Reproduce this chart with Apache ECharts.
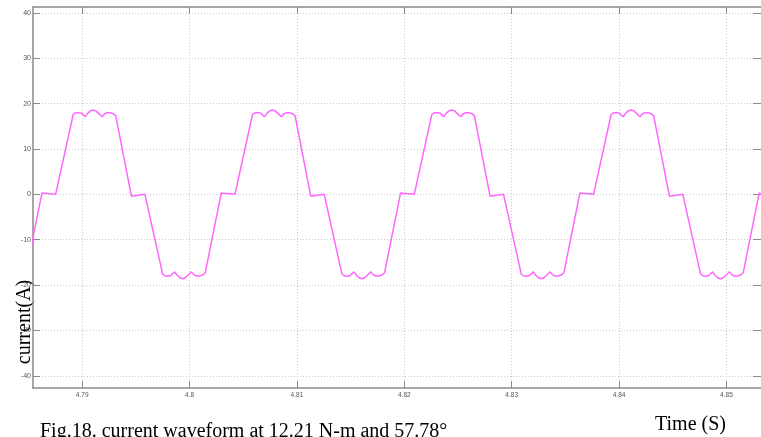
<!DOCTYPE html>
<html>
<head>
<meta charset="utf-8">
<script src="https://cdn.jsdelivr.net/npm/echarts@6/dist/echarts.min.js"></script>
<style>
  html, body { margin: 0; padding: 0; background: #ffffff; }
  #chart { width: 761px; height: 437px; }
</style>
</head>
<body>
<div id="chart"></div>
<script>
// Phase current over ~4 cycles of steady-state operation
const timeS = [
  4.784510, 4.784761,
  // cycle 1
  4.786257, 4.786443, 4.787529, 4.789164, 4.789368, 4.789647, 4.789926, 4.790279, 4.790529, 4.790762,
  4.791022, 4.791272, 4.791551, 4.791857, 4.792062, 4.792322, 4.792619, 4.792879, 4.793130,
  4.794588, 4.794774, 4.795842, 4.797495, 4.797699, 4.797978, 4.798257, 4.798610, 4.798860, 4.799093,
  4.799353, 4.799603, 4.799882, 4.800188, 4.800393, 4.800653, 4.800950, 4.801210, 4.801461,
  // cycle 2
  4.802957, 4.803143, 4.804229, 4.805864, 4.806068, 4.806347, 4.806626, 4.806979, 4.807229, 4.807462,
  4.807722, 4.807972, 4.808251, 4.808557, 4.808762, 4.809022, 4.809319, 4.809579, 4.809830,
  4.811288, 4.811474, 4.812542, 4.814195, 4.814399, 4.814678, 4.814957, 4.815310, 4.815560, 4.815793,
  4.816053, 4.816303, 4.816582, 4.816888, 4.817093, 4.817353, 4.817650, 4.817910, 4.818161,
  // cycle 3
  4.819657, 4.819843, 4.820929, 4.822564, 4.822768, 4.823047, 4.823326, 4.823679, 4.823929, 4.824162,
  4.824422, 4.824672, 4.824951, 4.825257, 4.825462, 4.825722, 4.826019, 4.826279, 4.826530,
  4.827988, 4.828174, 4.829242, 4.830895, 4.831099, 4.831378, 4.831657, 4.832010, 4.832260, 4.832493,
  4.832753, 4.833003, 4.833282, 4.833588, 4.833793, 4.834053, 4.834350, 4.834610, 4.834861,
  // cycle 4
  4.836357, 4.836543, 4.837629, 4.839264, 4.839468, 4.839747, 4.840026, 4.840379, 4.840629, 4.840862,
  4.841122, 4.841372, 4.841651, 4.841957, 4.842162, 4.842422, 4.842719, 4.842979, 4.843230,
  4.844688, 4.844874, 4.845942, 4.847595, 4.847799, 4.848078, 4.848357, 4.848710, 4.848960, 4.849193,
  4.849453, 4.849703, 4.849982, 4.850288, 4.850493, 4.850753, 4.851050, 4.851310, 4.851561,
  4.853057, 4.853243
];

const currentA = [
  -17.8, -17.3,
  // cycle 1
  0.3, 0, 0, 17.6, 17.95, 18.05, 17.9, 17.1, 17.9, 18.4,
  18.6, 18.4, 17.8, 17.1, 17.7, 18.0, 18.0, 17.8, 17.3,
  -0.4, 0, 0, -17.6, -17.95, -18.05, -17.9, -17.1, -17.9, -18.4,
  -18.6, -18.4, -17.8, -17.1, -17.7, -18.0, -18.0, -17.8, -17.3,
  // cycle 2
  0.3, 0, 0, 17.6, 17.95, 18.05, 17.9, 17.1, 17.9, 18.4,
  18.6, 18.4, 17.8, 17.1, 17.7, 18.0, 18.0, 17.8, 17.3,
  -0.4, 0, 0, -17.6, -17.95, -18.05, -17.9, -17.1, -17.9, -18.4,
  -18.6, -18.4, -17.8, -17.1, -17.7, -18.0, -18.0, -17.8, -17.3,
  // cycle 3
  0.3, 0, 0, 17.6, 17.95, 18.05, 17.9, 17.1, 17.9, 18.4,
  18.6, 18.4, 17.8, 17.1, 17.7, 18.0, 18.0, 17.8, 17.3,
  -0.4, 0, 0, -17.6, -17.95, -18.05, -17.9, -17.1, -17.9, -18.4,
  -18.6, -18.4, -17.8, -17.1, -17.7, -18.0, -18.0, -17.8, -17.3,
  // cycle 4
  0.3, 0, 0, 17.6, 17.95, 18.05, 17.9, 17.1, 17.9, 18.4,
  18.6, 18.4, 17.8, 17.1, 17.7, 18.0, 18.0, 17.8, 17.3,
  -0.4, 0, 0, -17.6, -17.95, -18.05, -17.9, -17.1, -17.9, -18.4,
  -18.6, -18.4, -17.8, -17.1, -17.7, -18.0, -18.0, -17.8, -17.3,
  0.3, 0
];

const xTicks = [4.79, 4.80, 4.81, 4.82, 4.83, 4.84, 4.85];
const xTickLabels = ['4.79', '4.8', '4.81', '4.82', '4.83', '4.84', '4.85'];
const yTicks = [-40, -30, -20, -10, 0, 10, 20, 30, 40];
const yTickLabels = ['-40', '-30', '-20', '-10', '0', '10', '20', '30', '40'];

const xRange = [4.785421, 4.853221];
const yRange = [-42.7, 41.3];

const axisGray = '#8a8a8a';
const gridGray = '#c9c9c9';

const points = timeS.map((t, i) => [t, currentA[i]]);

function pick(ticks, labels) {
  return v => {
    const i = ticks.findIndex(t => Math.abs(t - v) < 1e-9);
    return i >= 0 ? labels[i] : '';
  };
}

// frame axis: optional line plus inward ticks, no labels
function frameAxis(position, range, ticks, showLine, tickLen) {
  return {
    type: 'value', position: position, min: range[0], max: range[1],
    axisLine: { show: showLine, onZero: false, lineStyle: { color: axisGray, width: 1.5 } },
    axisTick: { show: true, inside: true, length: tickLen, customValues: ticks, lineStyle: { color: axisGray, width: 1 } },
    axisLabel: { show: false },
    splitLine: { show: false }
  };
}

const chart = echarts.init(document.getElementById('chart'), null, { renderer: 'canvas' });

chart.setOption({
  animation: false,
  backgroundColor: '#ffffff',
  grid: { left: 33, top: 7, right: -2, bottom: 49, containLabel: false },
  xAxis: [
    {
      type: 'value', position: 'bottom', min: xRange[0], max: xRange[1],
      axisLine: { show: true, onZero: false, lineStyle: { color: axisGray, width: 1.5 } },
      axisTick: { show: true, inside: true, length: 7, customValues: xTicks, lineStyle: { color: axisGray, width: 1 } },
      axisLabel: {
        show: true, customValues: xTicks, formatter: pick(xTicks, xTickLabels),
        fontSize: 6.5, color: '#555', margin: 4, fontFamily: 'Liberation Sans Narrow, Liberation Sans, sans-serif'
      },
      splitLine: { show: true, lineStyle: { color: gridGray, type: [1, 2], width: 1 } }
    },
    frameAxis('top', xRange, xTicks, true, 7)
  ],
  yAxis: [
    {
      type: 'value', position: 'left', min: yRange[0], max: yRange[1],
      axisLine: { show: true, onZero: false, lineStyle: { color: axisGray, width: 1.5 } },
      axisTick: { show: true, inside: true, length: 7, customValues: yTicks, lineStyle: { color: axisGray, width: 1 } },
      axisLabel: {
        show: true, customValues: yTicks, formatter: pick(yTicks, yTickLabels),
        fontSize: 7, color: '#555', margin: 2, fontFamily: 'Liberation Sans Narrow, Liberation Sans, sans-serif'
      },
      splitLine: { show: true, lineStyle: { color: gridGray, type: [1, 2], width: 1 } }
    },
    frameAxis('right', yRange, yTicks, false, 8)
  ],
  series: [
    {
      type: 'line',
      xAxisIndex: 0,
      yAxisIndex: 0,
      data: points,
      showSymbol: false,
      symbol: 'none',
      clip: true,
      lineStyle: { color: '#ff66ff', width: 1.5 }
    }
  ],
  graphic: [
    {
      type: 'text', x: 25, y: 322, rotation: Math.PI / 2,
      style: {
        text: 'current(A)', fill: '#000', font: '20px "Liberation Serif", "Times New Roman", serif',
        align: 'center', verticalAlign: 'middle'
      }
    },
    {
      type: 'text', x: 655, y: 425,
      style: {
        text: 'Time (S)', fill: '#000', font: '20px "Liberation Serif", "Times New Roman", serif',
        align: 'left', verticalAlign: 'middle'
      }
    },
    {
      type: 'text', x: 40, y: 431.5,
      style: {
        text: 'Fig.18. current waveform at 12.21 N-m and 57.78°', fill: '#000',
        font: '20px "Liberation Serif", "Times New Roman", serif',
        align: 'left', verticalAlign: 'middle'
      }
    }
  ]
});
</script>
</body>
</html>
